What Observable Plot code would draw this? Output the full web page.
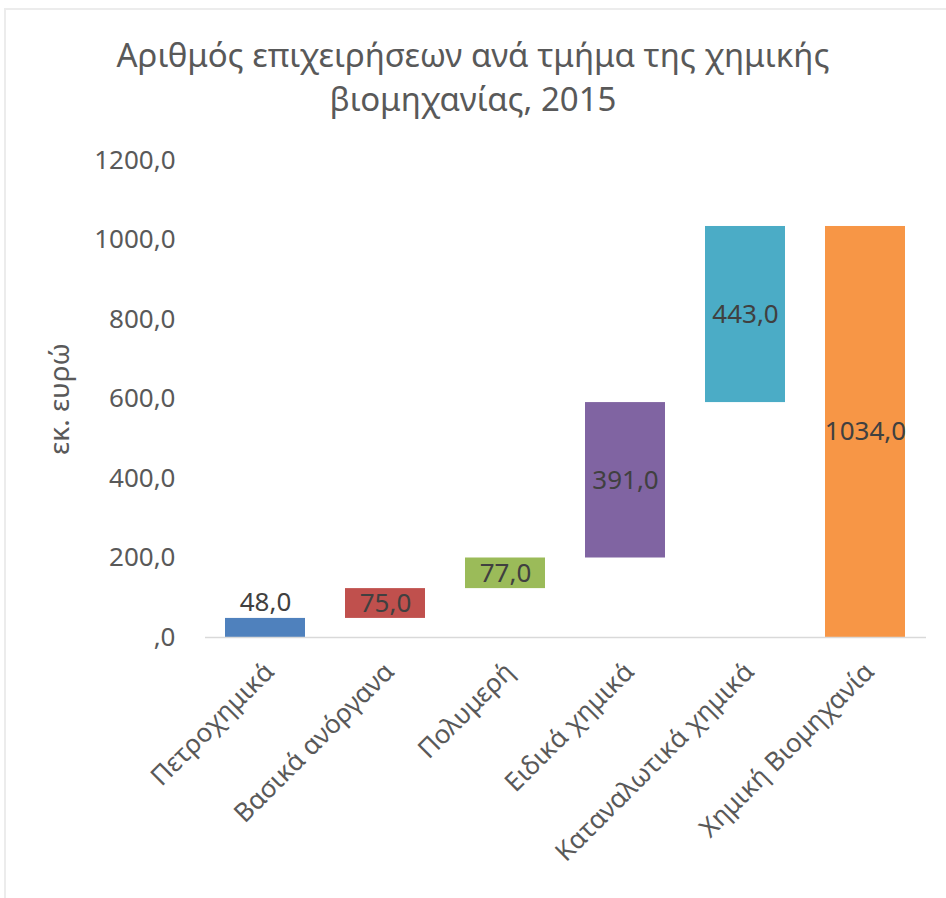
<!DOCTYPE html>
<html>
<head>
<meta charset="utf-8">
<script src="https://cdn.jsdelivr.net/npm/d3@7"></script>
<script src="https://cdn.jsdelivr.net/npm/@observablehq/plot@0.6"></script>
<style>
  html, body { margin: 0; padding: 0; background: #ffffff; }
  #frame { position: absolute; left: 4px; top: 8px; width: 960px; height: 920px;
           border-left: 2px solid #ececec; border-top: 2px solid #ececec; box-sizing: border-box; }
  #wrap { position: absolute; left: 0; top: 0; width: 946px; height: 898px; overflow: hidden; font-family: "Noto Sans", sans-serif; }
  #title { position: absolute; left: 0; top: 33px; width: 946px; text-align: center;
           font-size: 33px; line-height: 44px; color: #595959; }
  #chart { position: absolute; left: 0; top: 135px; }
</style>
</head>
<body>
<div id="wrap">
  <div id="frame"></div>
  <div id="title">Αριθμός επιχειρήσεων ανά τμήμα της χημικής<br>βιομηχανίας, 2015</div>
  <div id="chart"></div>
</div>
<script>
const categories = ["Πετροχημικά", "Βασικά ανόργανα", "Πολυμερή", "Ειδικά χημικά", "Καταναλωτικά χημικά", "Χημική Βιομηχανία"];
const values = [48, 75, 77, 391, 443, 1034];
const isTotal = [false, false, false, false, false, true];
const colors = ["#4f81bd", "#c0504d", "#9bbb59", "#8064a2", "#4bacc6", "#f79646"];
const yTicks = [0, 200, 400, 600, 800, 1000, 1200];

// build waterfall table
let running = 0;
const rows = categories.map((c, i) => {
  let start, end;
  if (isTotal[i]) { start = 0; end = values[i]; running = values[i]; }
  else { start = running; end = running + values[i]; running = end; }
  return { cat: c, value: values[i], start, end, mid: (start + end) / 2, color: colors[i], small: values[i] < 60 };
});

const fmt = v => (v === 0 ? "" : String(Math.round(v))) + ",0";
const fmtVal = v => v.toFixed(1).replace(".", ",");

const W = 946, H = 763;
const plot = Plot.plot({
  width: W,
  height: H,
  marginLeft: 205,
  marginRight: 20,
  marginTop: 25,
  marginBottom: 261,
  style: { fontFamily: "Noto Sans, sans-serif", background: "transparent" },
  x: { domain: categories, paddingInner: 0.333, paddingOuter: 0.1667, axis: null },
  y: { domain: [0, 1200], axis: null },
  marks: [
    Plot.barY(rows, { x: "cat", y1: "start", y2: "end", fill: "color" }),
    Plot.ruleY([0], { stroke: "#d9d9d9", strokeWidth: 1.5 }),
    Plot.axisY(yTicks, {
      tickSize: 0, tickPadding: 30, tickFormat: fmt, fontSize: 26, fill: "#595959",
      label: null
    }),
    Plot.text(["εκ. ευρώ"], {
      frameAnchor: "left", textAnchor: "middle", dx: -145, rotate: -90, fontSize: 28, fill: "#595959"
    }),
    Plot.axisX(categories, {
      tickSize: 0, tickRotate: -45, fontSize: 26, fill: "#595959",
      textAnchor: "end", tickPadding: 30, dx: 4, label: null
    }),
    Plot.text(rows.filter(d => !d.small), {
      x: "cat", y: "mid", text: d => fmtVal(d.value), fontSize: 26, fill: "#404040"
    }),
    Plot.text(rows.filter(d => d.small), {
      x: "cat", y: "end", text: d => fmtVal(d.value), fontSize: 26, fill: "#404040", dy: -16
    })
  ]
});
document.getElementById("chart").appendChild(plot);
</script>
</body>
</html>
